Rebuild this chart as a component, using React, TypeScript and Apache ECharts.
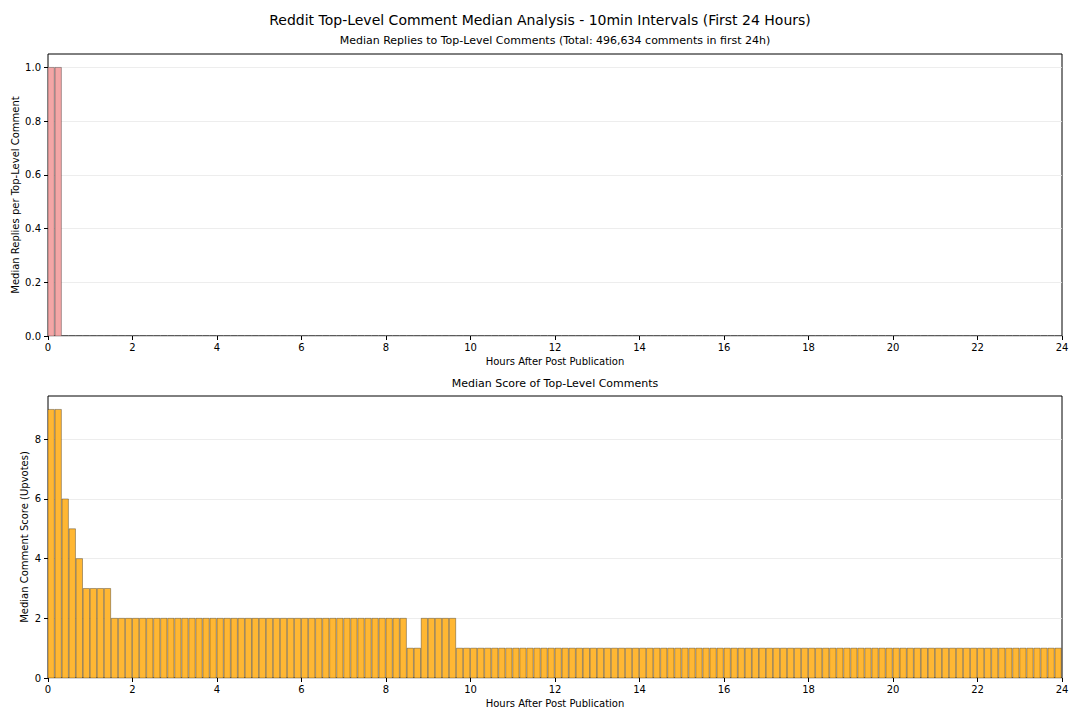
import React, { useEffect, useRef } from "react";
import * as echarts from "echarts";

const SUPTITLE = "Reddit Top-Level Comment Median Analysis - 10min Intervals (First 24 Hours)";
const TOP_TITLE = "Median Replies to Top-Level Comments (Total: 496,634 comments in first 24h)";
const BOTTOM_TITLE = "Median Score of Top-Level Comments";
const X_NAME = "Hours After Post Publication";
const TOP_Y_NAME = "Median Replies per Top-Level Comment";
const BOTTOM_Y_NAME = "Median Comment Score (Upvotes)";

const INTERVAL_MINUTES = 10;

// one row = 12 ten-minute bins = 2 hours
const medianReplies: number[] = [
  1, 1, 0, 0, 0, 0, 0, 0, 0, 0, 0, 0,
  0, 0, 0, 0, 0, 0, 0, 0, 0, 0, 0, 0,
  0, 0, 0, 0, 0, 0, 0, 0, 0, 0, 0, 0,
  0, 0, 0, 0, 0, 0, 0, 0, 0, 0, 0, 0,
  0, 0, 0, 0, 0, 0, 0, 0, 0, 0, 0, 0,
  0, 0, 0, 0, 0, 0, 0, 0, 0, 0, 0, 0,
  0, 0, 0, 0, 0, 0, 0, 0, 0, 0, 0, 0,
  0, 0, 0, 0, 0, 0, 0, 0, 0, 0, 0, 0,
  0, 0, 0, 0, 0, 0, 0, 0, 0, 0, 0, 0,
  0, 0, 0, 0, 0, 0, 0, 0, 0, 0, 0, 0,
  0, 0, 0, 0, 0, 0, 0, 0, 0, 0, 0, 0,
  0, 0, 0, 0, 0, 0, 0, 0, 0, 0, 0, 0,
];

const medianScores: number[] = [
  9, 9, 6, 5, 4, 3, 3, 3, 3, 2, 2, 2,
  2, 2, 2, 2, 2, 2, 2, 2, 2, 2, 2, 2,
  2, 2, 2, 2, 2, 2, 2, 2, 2, 2, 2, 2,
  2, 2, 2, 2, 2, 2, 2, 2, 2, 2, 2, 2,
  2, 2, 2, 1, 1, 2, 2, 2, 2, 2, 1, 1,
  1, 1, 1, 1, 1, 1, 1, 1, 1, 1, 1, 1,
  1, 1, 1, 1, 1, 1, 1, 1, 1, 1, 1, 1,
  1, 1, 1, 1, 1, 1, 1, 1, 1, 1, 1, 1,
  1, 1, 1, 1, 1, 1, 1, 1, 1, 1, 1, 1,
  1, 1, 1, 1, 1, 1, 1, 1, 1, 1, 1, 1,
  1, 1, 1, 1, 1, 1, 1, 1, 1, 1, 1, 1,
  1, 1, 1, 1, 1, 1, 1, 1, 1, 1, 1, 1,
];

const xTicks = [0, 2, 4, 6, 8, 10, 12, 14, 16, 18, 20, 22, 24];
const topYTicks = [0, 0.2, 0.4, 0.6, 0.8, 1.0];
const bottomYTicks = [0, 2, 4, 6, 8];

const FONT = "DejaVu Sans";
const BIN_HOURS = INTERVAL_MINUTES / 60;
const BAR_WIDTH_HOURS = BIN_HOURS * 0.9;

function barSeries(values: number[], gridIndex: number, fill: string) {
  return {
    type: "custom",
    xAxisIndex: gridIndex,
    yAxisIndex: gridIndex,
    clip: true,
    encode: { x: 0, y: 1 },
    data: values.map((v, i) => [i * BIN_HOURS, v]),
    renderItem: (_params: any, api: any) => {
      const x = api.value(0);
      const v = api.value(1);
      const p0 = api.coord([x, 0]);
      const p1 = api.coord([x + BAR_WIDTH_HOURS, v]);
      return {
        type: "rect",
        shape: { x: p0[0], y: p1[1], width: p1[0] - p0[0], height: p0[1] - p1[1] },
        style: { fill, stroke: "rgba(0,0,0,0.4)", lineWidth: 0.8 },
      };
    },
  };
}

function xAxis(gridIndex: number) {
  return {
    type: "value",
    gridIndex,
    min: 0,
    max: 24,
    interval: 2,
    name: X_NAME,
    nameLocation: "middle",
    nameGap: 20,
    nameMoveOverlap: false,
    nameTextStyle: { fontFamily: FONT, fontSize: 10, color: "#000" },
    axisLine: { show: false },
    axisTick: { show: true, length: 4, lineStyle: { color: "#000" }, customValues: xTicks },
    axisLabel: { fontFamily: FONT, fontSize: 10, color: "#000", margin: 6, customValues: xTicks },
    splitLine: { show: false },
  };
}

function yAxis(gridIndex: number, max: number, ticks: number[], name: string, gap: number, digits: number) {
  return {
    type: "value",
    gridIndex,
    min: 0,
    max,
    name,
    nameLocation: "middle",
    nameGap: gap,
    nameMoveOverlap: false,
    nameTextStyle: { fontFamily: FONT, fontSize: 10, color: "#000" },
    axisLine: { show: false },
    axisTick: { show: true, length: 4, lineStyle: { color: "#000" }, customValues: ticks },
    axisLabel: {
      fontFamily: FONT,
      fontSize: 10,
      color: "#000",
      margin: 7,
      customValues: ticks,
      formatter: (v: number) => v.toFixed(digits),
    },
    splitLine: { show: true, lineStyle: { color: "#e8e8e8", width: 0.8 } },
  };
}

export default function App() {
  const ref = useRef<HTMLDivElement>(null);
  useEffect(() => {
    if (!ref.current) return;
    const chart = echarts.init(ref.current, undefined, { renderer: "svg" });
    chart.setOption({
      animation: false,
      backgroundColor: "#fff",
      title: [
        {
          text: SUPTITLE,
          left: 540,
          top: 13,
          textAlign: "center",
          padding: 0,
          textStyle: { fontFamily: FONT, fontSize: 14, fontWeight: "normal", color: "#000" },
        },
        {
          text: TOP_TITLE,
          left: 555,
          top: 35,
          textAlign: "center",
          padding: 0,
          textStyle: { fontFamily: FONT, fontSize: 11, fontWeight: "normal", color: "#000" },
        },
        {
          text: BOTTOM_TITLE,
          left: 555,
          top: 378,
          textAlign: "center",
          padding: 0,
          textStyle: { fontFamily: FONT, fontSize: 11, fontWeight: "normal", color: "#000" },
        },
      ],
      grid: [
        { left: 48, right: 18, top: 54, height: 282, show: true, borderColor: "#000", borderWidth: 1, backgroundColor: "transparent", outerBoundsMode: "none" },
        { left: 48, right: 18, top: 396, height: 282, show: true, borderColor: "#000", borderWidth: 1, backgroundColor: "transparent", outerBoundsMode: "none" },
      ],
      xAxis: [xAxis(0), xAxis(1)],
      yAxis: [
        yAxis(0, 1.05, topYTicks, TOP_Y_NAME, 28, 1),
        yAxis(1, 9.45, bottomYTicks, BOTTOM_Y_NAME, 19, 0),
      ],
      series: [
        barSeries(medianReplies, 0, "#F4A6A6"),
        barSeries(medianScores, 1, "#FFB733"),
      ],
    });
    return () => chart.dispose();
  }, []);
  return (
    <div
      ref={ref}
      style={{ position: "fixed", left: 0, top: 0, width: 1080, height: 720, background: "#fff" }}
    />
  );
}
